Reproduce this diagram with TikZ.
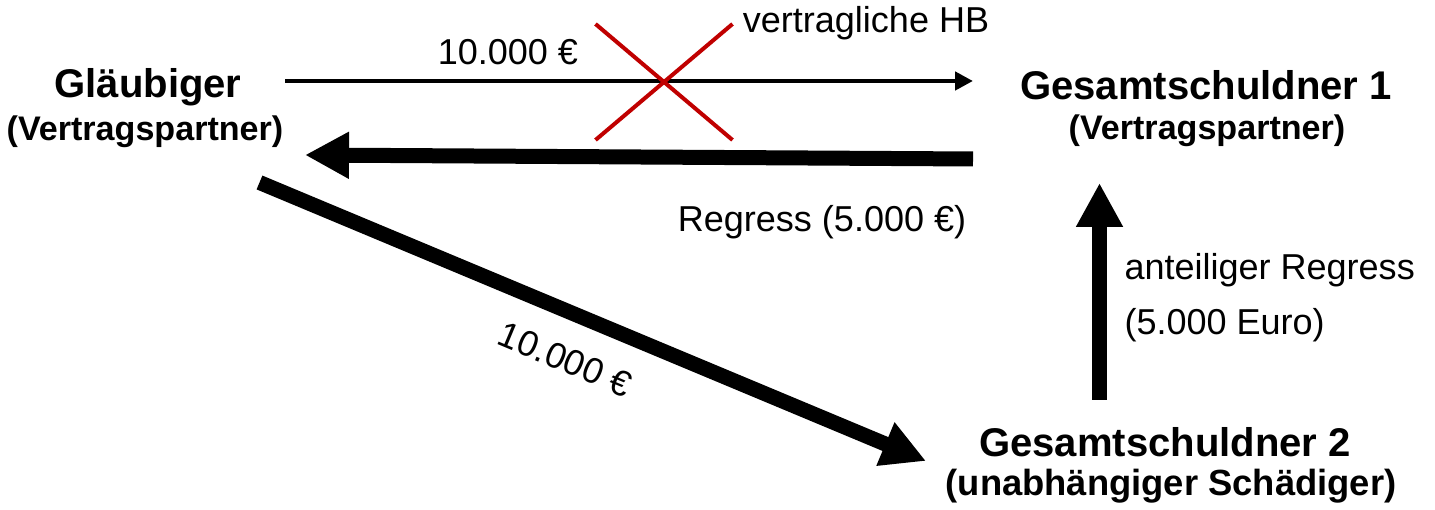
\documentclass[tikz,border=0pt]{standalone}
\usepackage{fontspec}
\setmainfont{Liberation Sans}
\usetikzlibrary{arrows.meta,calc,positioning}
\definecolor{crossred}{RGB}{192,0,0}
\tikzset{
  party/.style      = {font=\fontsize{22.8}{27}\selectfont\bfseries, inner sep=0pt},
  partysub/.style   = {font=\fontsize{19.4}{23}\selectfont\bfseries, inner sep=0pt},
  annot/.style      = {font=\fontsize{20.5}{31.3}\selectfont, inner sep=0pt, align=left},
  thinarrow/.style  = {-{Triangle[length=3.6mm,width=3.6mm]}, line width=0.09cm},
  thickarrow/.style = {-{Triangle[length=8.8mm,width=8.8mm]}, line width=0.3cm},
  crossline/.style  = {line width=0.08cm, draw=crossred},
}

\begin{document}
\begin{tikzpicture}
  \useasboundingbox (0,0) rectangle (28.7,10.2);
  % parties
  \node[party]    (glaub)    at (2.96,8.46)  {Gläubiger};
  \node[partysub] (glaubsub) at (2.90,7.57)  {(Vertragspartner)};
  \node[party]    (gs1)      at (24.12,8.50) {Gesamtschuldner 1};
  \node[partysub] (gs1sub)   at (24.14,7.58) {(Vertragspartner)};
  \node[party]    (gs2)      at (23.30,1.35) {Gesamtschuldner 2};
  \node[partysub, font=\fontsize{20.7}{25}\selectfont\bfseries]
                  (gs2sub)   at (23.42,0.47) {(unabhängiger Schädiger)};

  % arrow ends
  \coordinate (payS)  at (5.70,8.58);
  \coordinate (payE)  at (19.46,8.58);
  \coordinate (regS)  at (19.46,7.02);
  \coordinate (regE)  at (6.10,7.10);
  \coordinate (dmgS)  at (5.19,6.55);
  \coordinate (dmgE)  at (18.52,0.98);
  \coordinate (shareS) at (21.99,2.20);
  \coordinate (shareE) at (21.99,6.54);

  \draw[thinarrow] (payS) -- node[annot, pos=0.324, above=0.27cm] (payamt) {10.000 €} (payE);
  \draw[thickarrow] (regS) -- node[annot, pos=0.226, below=0.8cm] (regamt) {Regress (5.000 €)} (regE);
  \draw[thickarrow] (dmgS) -- node[annot, pos=0.485, sloped, below=0.5cm] (dmgamt) {10.000 €} (dmgE);
  \draw[thickarrow] (shareS) -- node[annot, pos=0.47, right=0.35cm] (shareamt)
        {anteiliger Regress\\(5.000 Euro)} (shareE);

  % struck out contract liability
  \coordinate (cross) at (13.28,8.56);
  \draw[crossline] ($(cross)+(-1.37,1.16)$) -- ($(cross)+(1.37,-1.16)$);
  \draw[crossline] ($(cross)+(-1.37,-1.16)$) -- ($(cross)+(1.37,1.16)$);
  \node[annot] (hb) at (17.32,9.74) {vertragliche HB};
\end{tikzpicture}
\end{document}
